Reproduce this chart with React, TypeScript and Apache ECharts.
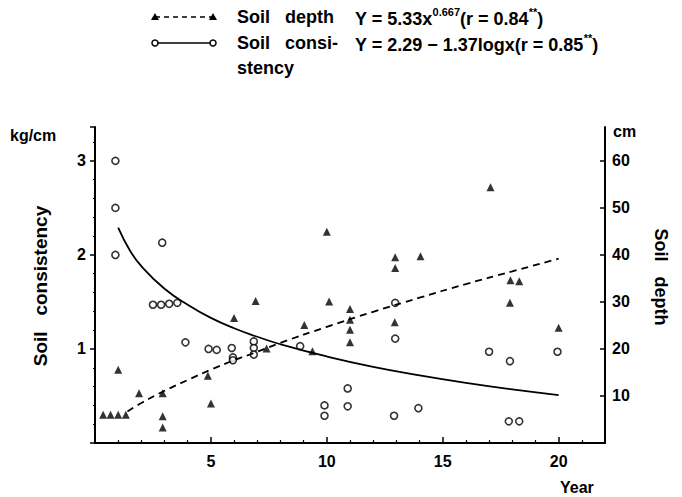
import React, { useEffect, useRef } from "react";
import * as echarts from "echarts";

// Soil consistency (kg/cm) observations: [year, value]
const consistencyPoints: number[][] = [
  [0.88, 3.0], [0.88, 2.5], [0.88, 2.0], [2.9, 2.13],
  [2.5, 1.47], [2.85, 1.47], [3.2, 1.48], [3.55, 1.49],
  [3.9, 1.07], [4.9, 1.0], [5.25, 0.99], [5.9, 1.01], [5.95, 0.91], [5.95, 0.88],
  [6.85, 1.08], [6.85, 1.01], [6.85, 0.94], [8.85, 1.03],
  [9.9, 0.4], [9.9, 0.29], [10.9, 0.58], [10.9, 0.39],
  [12.95, 1.49], [12.95, 1.11], [12.9, 0.29], [13.95, 0.37],
  [17.0, 0.97], [17.9, 0.87], [17.85, 0.23], [18.3, 0.23], [19.95, 0.97],
];

// Soil depth (cm) observations: [year, value]
const depthPoints: number[][] = [
  [0.35, 6.0], [0.67, 6.0], [1.0, 6.0], [1.33, 6.0], [1.0, 15.6],
  [1.9, 10.6], [2.92, 10.6], [2.92, 5.7], [2.92, 3.3],
  [4.87, 14.3], [5.0, 8.4], [6.0, 26.6], [6.93, 30.2], [7.4, 20.1],
  [9.03, 25.1], [9.38, 19.5], [10.0, 44.9], [10.1, 30.1],
  [11.0, 28.5], [11.0, 26.2], [11.0, 24.1], [11.0, 21.4],
  [12.95, 39.5], [12.95, 37.2], [12.93, 25.7], [14.04, 39.7],
  [17.06, 54.4], [17.92, 34.6], [18.3, 34.4], [17.9, 29.8], [20.0, 24.5],
];

// Fitted curves
const consistencyFitX = [1, 1.5, 2, 3, 4, 5, 6, 7, 8, 10, 12, 14, 16, 18, 20];
const consistencyFitY = [2.29, 2.05, 1.88, 1.64, 1.47, 1.33, 1.22, 1.13, 1.05, 0.92, 0.81, 0.72, 0.64, 0.57, 0.51];
const depthFitX = [1.4, 2, 3, 4, 5, 6, 7, 8, 10, 12, 14, 16, 18, 20];
const depthFitY = [6.7, 8.5, 11.1, 13.4, 15.6, 17.6, 19.4, 21.3, 24.7, 27.9, 30.9, 33.8, 36.5, 39.2];

const FONT = "'Liberation Sans', Arial, sans-serif";
const NARROW = "'Liberation Sans Narrow', 'Liberation Sans', Arial, sans-serif";

export default function App() {
  const ref = useRef<HTMLDivElement>(null);
  useEffect(() => {
    document.body.style.margin = "0";
    if (!ref.current) return;
    const chart = echarts.init(ref.current, null, { renderer: "svg" });
    const intLabel = (v: number) => (Number.isInteger(v) && v > 0 ? String(v) : "");
    const labelStyle = { color: "#000", fontSize: 16, fontWeight: "bold" as const, fontFamily: FONT };
    const rich = {
      n: { fontSize: 18, fontWeight: "bold", fontFamily: NARROW, color: "#000", lineHeight: 22, verticalAlign: "bottom" },
      s: { fontSize: 11, fontWeight: "bold", fontFamily: NARROW, color: "#000", lineHeight: 22, verticalAlign: "top" },
    };
    const txt = (x: number, y: number, text: string, extra: any = {}) => ({
      type: "text", x, y,
      style: { text, fill: "#000", fontSize: 18, fontWeight: "bold", fontFamily: FONT, textVerticalAlign: "middle", ...extra },
    });
    chart.setOption({
      animation: false,
      backgroundColor: "#fff",
      grid: { left: 95, right: 77, top: 127, bottom: 54, containLabel: false },
      xAxis: {
        type: "value", min: 0, max: 22, interval: 5,
        axisLine: { lineStyle: { color: "#000", width: 2 } },
        axisTick: { inside: true, length: 6, lineStyle: { color: "#000", width: 1.5 } },
        minorTick: { show: true, splitNumber: 5, length: 3, lineStyle: { color: "#000", width: 1.2 } },
        axisLabel: { ...labelStyle, margin: 10, formatter: intLabel, showMaxLabel: false },
        splitLine: { show: false },
      },
      yAxis: [
        {
          type: "value", min: 0, max: 3.36, interval: 1, position: "left",
          axisLine: { show: true, lineStyle: { color: "#000", width: 2 } },
          axisTick: { show: true, inside: false, length: 5, lineStyle: { color: "#000", width: 1.5 } },
          minorTick: { show: true, splitNumber: 5, length: 2, lineStyle: { color: "#000", width: 1 } },
          axisLabel: { ...labelStyle, margin: 9, formatter: intLabel, showMaxLabel: false },
          splitLine: { show: false },
        },
        {
          type: "value", min: 0, max: 67.2, interval: 10, position: "right",
          axisLine: { show: true, lineStyle: { color: "#000", width: 2 } },
          axisTick: { show: true, inside: true, length: 5, lineStyle: { color: "#000", width: 1.5 } },
          axisLabel: { ...labelStyle, margin: 7, formatter: intLabel, showMaxLabel: false },
          splitLine: { show: false },
        },
      ],
      series: [
        {
          type: "line", yAxisIndex: 0, smooth: true, showSymbol: false, silent: true,
          data: consistencyFitX.map((x, i) => [x, consistencyFitY[i]]),
          lineStyle: { color: "#000", width: 1.8 },
        },
        {
          type: "line", yAxisIndex: 1, smooth: true, showSymbol: false, silent: true,
          data: depthFitX.map((x, i) => [x, depthFitY[i]]),
          lineStyle: { color: "#000", width: 1.8, type: [7, 5] },
        },
        {
          type: "scatter", yAxisIndex: 0, symbol: "circle", symbolSize: 7,
          data: consistencyPoints,
          itemStyle: { color: "#fff", borderColor: "#000", borderWidth: 1.6 },
        },
        {
          type: "scatter", yAxisIndex: 1, symbol: "triangle", symbolSize: 8,
          data: depthPoints,
          itemStyle: { color: "#000" },
        },
      ],
      graphic: [
        // legend row 1
        { type: "line", shape: { x1: 155, y1: 17, x2: 213, y2: 17 }, style: { stroke: "#000", lineWidth: 1.5, lineDash: [5, 4] } },
        { type: "polygon", shape: { points: [[155, 13], [151, 20], [159, 20]] }, style: { fill: "#000" } },
        { type: "polygon", shape: { points: [[213, 13], [209, 20], [217, 20]] }, style: { fill: "#000" } },
        txt(237, 17, "Soil   depth"),
        { type: "text", x: 355, y: 17, style: { text: "{n|Y = 5.33x}{s|0.667}{n|(r = 0.84}{s|**}{n|)}", rich, textVerticalAlign: "middle" } },
        // legend row 2
        { type: "line", shape: { x1: 155, y1: 43, x2: 213, y2: 43 }, style: { stroke: "#000", lineWidth: 1.5 } },
        { type: "circle", shape: { cx: 155, cy: 43, r: 3 }, style: { fill: "#fff", stroke: "#000", lineWidth: 1.5 } },
        { type: "circle", shape: { cx: 213, cy: 43, r: 3 }, style: { fill: "#fff", stroke: "#000", lineWidth: 1.5 } },
        txt(237, 43, "Soil   consi-"),
        { type: "text", x: 355, y: 43, style: { text: "{n|Y = 2.29 − 1.37logx(r = 0.85}{s|**}{n|)}", rich, textVerticalAlign: "middle" } },
        txt(237, 68, "stency"),
        // axis units and titles
        txt(10, 135, "kg/cm", { fontSize: 16 }),
        txt(613, 131, "cm", { fontSize: 16 }),
        txt(560, 487, "Year", { fontSize: 16 }),
        { type: "text", x: 40, y: 286, rotation: Math.PI / 2, style: { text: "Soil   consistency", fill: "#000", fontSize: 19, fontWeight: "bold", fontFamily: FONT, textAlign: "center", textVerticalAlign: "middle" } },
        { type: "text", x: 661, y: 277, rotation: -Math.PI / 2, style: { text: "Soil   depth", fill: "#000", fontSize: 18, fontWeight: "bold", fontFamily: FONT, textAlign: "center", textVerticalAlign: "middle" } },
      ],
    });
    return () => chart.dispose();
  }, []);
  return <div ref={ref} style={{ width: 682, height: 497 }} />;
}
